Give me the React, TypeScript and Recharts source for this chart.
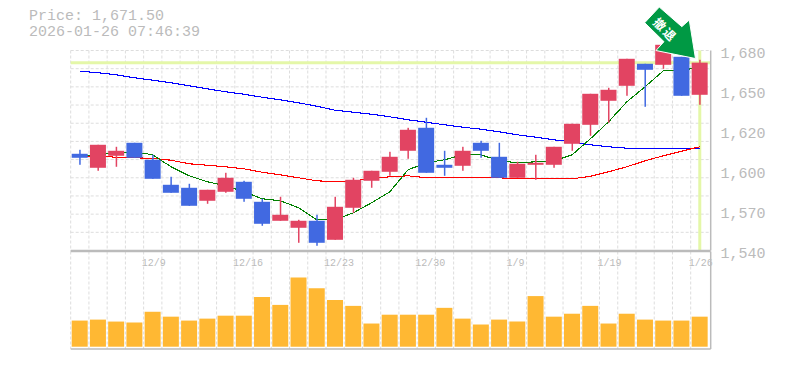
import React from 'react';
import { ComposedChart, Bar, Line, XAxis, YAxis, CartesianGrid, ReferenceLine, ReferenceDot } from 'recharts';

const dates = ['12/3','12/4','12/5','12/8','12/9','12/10','12/11','12/12','12/15','12/16','12/17','12/18','12/19','12/22','12/23','12/24','12/25','12/26','12/29','12/30','1/5','1/6','1/7','1/8','1/9','1/13','1/14','1/15','1/16','1/19','1/20','1/21','1/22','1/23','1/26'];
const opens = [1607.7,1597.9,1606.3,1615.4,1603.5,1586,1583.9,1574.8,1581.1,1588.1,1574.1,1560.8,1555.9,1560.8,1547.5,1569.9,1588.8,1595.1,1609.8,1625.9,1600,1599.3,1615.4,1605.6,1590.9,1600,1600,1614.7,1628,1644.8,1655.3,1670.7,1670,1675.6,1649];
const closes = [1604.9,1614,1609.8,1604.9,1590.2,1580.4,1571.3,1582.5,1590.9,1576.2,1558.7,1565,1560.8,1545.4,1570.6,1589.5,1595.8,1605.6,1624.5,1594.4,1597.9,1609.8,1609.8,1590.9,1600.7,1601.4,1612.6,1628.7,1649.7,1652.5,1674.2,1666.5,1684,1648.3,1671.5];
const highs = [1610.5,1614,1612.6,1615.4,1607,1591.6,1586.7,1582.5,1594.4,1588.8,1576.2,1577.6,1561.5,1565,1577.6,1590.9,1595.8,1609.1,1625.9,1632.9,1609.8,1612.6,1616.8,1615.4,1602.1,1607,1612.6,1628.7,1649.7,1653.9,1674.2,1670.7,1684,1675.6,1673.5];
const lows = [1600,1595.8,1598.6,1604.9,1590.2,1580.4,1571.3,1572.7,1580.4,1574.1,1557.3,1560.8,1545.4,1543.3,1547.5,1566.4,1583.9,1592.3,1604.2,1594.4,1592.3,1595.8,1604.9,1590.9,1590.9,1589.5,1597.9,1609.8,1620.3,1629.4,1648.3,1640.6,1667.2,1648.3,1642];
const maShort = [1606.3,1607,1608.4,1609.1,1607,1598.6,1592.3,1588.1,1585.3,1581.1,1576.2,1574.8,1569.9,1561.5,1561.5,1566.4,1573.4,1581.1,1596.5,1601.4,1603.5,1607,1607,1602.8,1601.4,1602.1,1602.8,1607,1618.2,1630.1,1644.1,1654.6,1665.8,1665.8,1668.6];
const maMid = [1606.3,1606,1605.3,1604.9,1604.5,1603.2,1600.7,1599.7,1598.6,1597.2,1594.8,1593,1590.9,1588.8,1588.1,1588.8,1590.2,1591.6,1592.3,1590.9,1590.9,1590.9,1590.9,1590.9,1590.2,1590.2,1590.2,1590.2,1591.9,1595.1,1598.6,1602.8,1606.3,1609.5,1612.6];
const maLong = [1665.6,1664.4,1663,1660.9,1659.2,1657.4,1655.3,1653.2,1651.1,1649.4,1647.3,1645.5,1643.4,1641,1638.2,1636.8,1635.4,1633.6,1631.5,1629.8,1628,1626.3,1624.9,1623.1,1621,1619.3,1617.5,1616.1,1614,1612.6,1611.6,1611.2,1611.2,1611.2,1611.2];
const volumes = [8000,8300,7700,7400,10700,9200,8000,8600,9500,9500,15200,12800,21200,17900,14300,12500,7100,9800,9800,9800,11900,8600,6800,8300,7700,15500,9200,10100,12500,7100,10100,8300,8000,8000,9200];
const priceTicks = [1540,1568,1596,1624,1652,1680];
const gridPrices = [1540,1552.73,1565.45,1578.18,1590.91,1603.64,1616.36,1629.09,1641.82,1654.55,1667.27,1680];
const labelledDates = ['12/9','12/16','12/23','12/30','1/9','1/19','1/26'];
const lastPrice = 1671.5;
const lastDate = '1/26';
const header = ['Price: 1,671.50','2026-01-26 07:46:39'];
const arrowText = '撤退';

const priceRows = dates.map((d, i) => ({ d, range: [lows[i], highs[i]], o: opens[i], c: closes[i], h: highs[i], l: lows[i], s: maShort[i], m: maMid[i], g: maLong[i] }));
const volumeRows = dates.map((d, i) => ({ d, v: volumes[i] }));

const GRID = '#dddddd', EDGE = '#bbbbbb', TEXT = '#bbbbbb', HILITE = '#e4f7a8';
const UP = '#e24462', DOWN = '#4169e1';
const W = 785, H = 370, LEFT = 70.7, RIGHT_M = 14.3, STEP = 18.235;
const verticals = () => dates.map((_, i) => LEFT + i * STEP);
const layer: React.CSSProperties = { position: 'absolute', left: 0, top: 0 };
const PAD = { left: 0, right: 1.8 };
const LINE = { stroke: EDGE, strokeWidth: 1.5 };

function Candle(props: any) {
  const { x, y, width, height, payload } = props;
  const { o, c, h, l } = payload;
  const perUnit = height / (h - l);
  const yOf = (p: number) => y + (h - p) * perUnit;
  const top = yOf(Math.max(o, c));
  const bot = yOf(Math.min(o, c));
  const col = c >= o ? UP : DOWN;
  const cx = x + width / 2;
  return (
    <g>
      <rect x={cx - 0.5} y={y} width={1.5} height={height} fill={col} />
      <rect x={x} y={top} width={width} height={Math.max(bot - top, 1)} fill={col} />
    </g>
  );
}

function Arrow(props: any) {
  const { cx, cy } = props;
  const pts = [[-40.5, -55.6], [-18, -36], [-10.5, -42.6], [-4.3, -4.1], [-43.8, -12.1], [-35.8, -21], [-55.1, -39.9]];
  return (
    <g transform={`translate(${cx},${cy})`}>
      <polygon points={pts.map(p => p.join(',')).join(' ')} fill="#009944" stroke="#ffffff" strokeWidth={1} />
      <text x={-33.8} y={-33.3} transform="rotate(45 -33.8 -33.3)" textAnchor="middle" dominantBaseline="central" fill="#ffffff" fontSize={12} fontWeight={700} fontFamily="'Noto Sans CJK JP'" letterSpacing={2}>{arrowText}</text>
    </g>
  );
}

const priceTick = (p: any) => (
  <text x={720.5} y={p.y + 7.5} fill={TEXT} fontSize={15} fontFamily="'Liberation Mono'">
    {(Math.round(p.payload.value / 10) * 10).toLocaleString('en-US')}
  </text>
);
const dateTick = (p: any) => (
  <text x={p.x - 11} y={266} fill={TEXT} fontSize={10} fontFamily="'Liberation Mono'">{p.payload.value}</text>
);
const NoShape = () => null;

export default function App() {
  return (
    <div style={{ position: 'absolute', left: 0, top: 0, width: W, height: H, background: '#fff', overflow: 'hidden' }}>
      <div style={{ position: 'absolute', left: 29, top: 9, fontFamily: "'Liberation Mono'", fontSize: 15, lineHeight: '15.5px', color: TEXT, whiteSpace: 'pre' }}>
        {header.map(t => <div key={t}>{t}</div>)}
      </div>
      <div style={layer}>
        <ComposedChart width={W} height={H} data={volumeRows} margin={{ left: LEFT, right: RIGHT_M, top: 250.5, bottom: 20 }}>
          <CartesianGrid stroke={GRID} strokeWidth={1} strokeDasharray="3 2" horizontal={false} verticalCoordinatesGenerator={verticals} />
          <XAxis xAxisId="t" dataKey="d" orientation="top" height={1} interval={0} ticks={labelledDates} tick={dateTick} tickLine={false} axisLine={LINE} padding={PAD} />
          <XAxis xAxisId="b" dataKey="d" orientation="bottom" height={1} tick={false} tickLine={false} axisLine={LINE} padding={PAD} />
          <YAxis orientation="right" width={60} domain={[-700, 29150]} tick={false} tickLine={false} axisLine={LINE} />
          <Bar xAxisId="b" dataKey="v" fill="#ffb833" barSize={16} isAnimationActive={false} />
        </ComposedChart>
      </div>
      <div style={layer}>
        <ComposedChart width={W} height={H} data={priceRows} margin={{ left: LEFT, right: RIGHT_M, top: 50.5, bottom: 118.5 }}>
          <CartesianGrid stroke={GRID} strokeWidth={1} strokeDasharray="3 2" horizontalValues={gridPrices} verticalCoordinatesGenerator={verticals} />
          <XAxis dataKey="d" height={1} tick={false} tickLine={false} axisLine={LINE} padding={PAD} />
          <YAxis orientation="right" width={60} domain={[1540, 1680]} ticks={priceTicks} interval={0} tick={priceTick} tickLine={false} axisLine={LINE} />
          <Bar dataKey="m" shape={NoShape} isAnimationActive={false} />
          <ReferenceLine y={lastPrice} stroke={HILITE} strokeWidth={3} />
          <ReferenceLine x={lastDate} stroke={HILITE} strokeWidth={3} />
        </ComposedChart>
      </div>
      <div style={layer}>
        <ComposedChart width={W} height={H} data={priceRows} margin={{ left: LEFT, right: RIGHT_M + 60, top: 43.36, bottom: 119.5 }}>
          <XAxis dataKey="d" hide padding={PAD} />
          <YAxis hide orientation="right" domain={[1540, 1685]} />
          <Line dataKey="g" stroke="#0000ff" strokeWidth={1.1} shapeRendering="crispEdges" dot={false} activeDot={false} isAnimationActive={false} zIndex={250} />
          <Line dataKey="m" stroke="#ff0000" strokeWidth={1.1} shapeRendering="crispEdges" dot={false} activeDot={false} isAnimationActive={false} zIndex={250} />
          <Line dataKey="s" stroke="#008000" strokeWidth={1.1} shapeRendering="crispEdges" dot={false} activeDot={false} isAnimationActive={false} zIndex={250} />
          <Bar dataKey="range" barSize={16} shape={Candle} isAnimationActive={false} />
          <ReferenceDot x={lastDate} y={lastPrice} r={1} shape={Arrow} ifOverflow="visible" zIndex={900} />
        </ComposedChart>
      </div>
    </div>
  );
}
